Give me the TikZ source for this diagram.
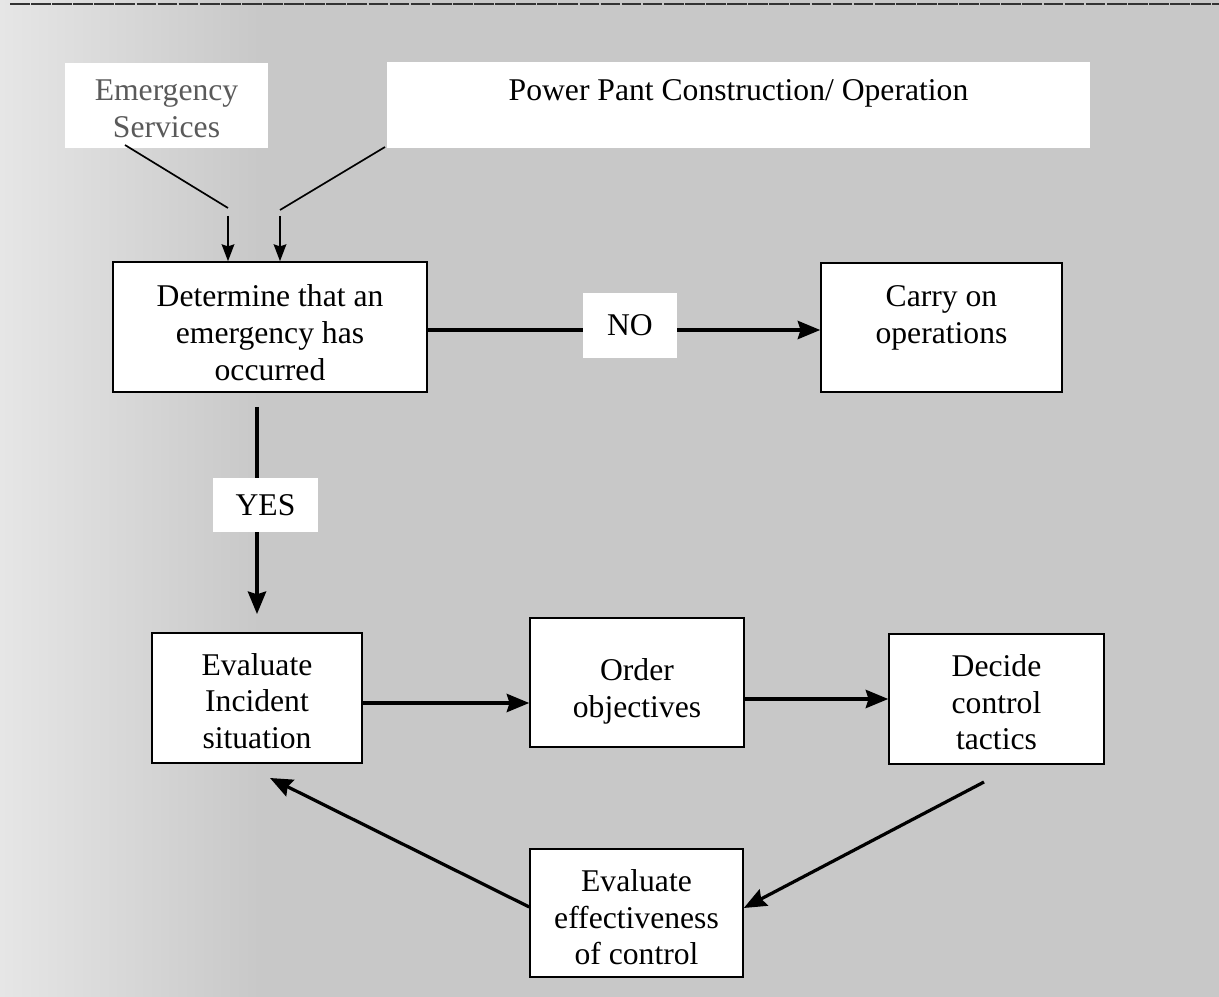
\documentclass[tikz,border=0pt]{standalone}
\usepackage{fontspec}
\setmainfont{Liberation Serif}
\usetikzlibrary{arrows.meta}
\definecolor{bg}{RGB}{200,200,200}
\definecolor{bgl}{RGB}{230,230,230}
\definecolor{fadetext}{RGB}{90,90,90}
\begin{document}
\begin{tikzpicture}[x=0.025cm,y=-0.025cm,
  txt/.style={font=\fontsize{22.5}{26}\selectfont, align=center, inner sep=0pt},
  box/.style={draw=black, line width=1.1pt, fill=white, inner sep=0pt},
  whitebox/.style={fill=white, inner sep=0pt},
  boxtext/.style 2 args={label={[txt, yshift=#1]center:{#2}}},
  arr/.style={line width=2.3pt, -{Stealth[length=16pt,width=13pt,inset=2pt]}},
  thinarr/.style={line width=1.3pt, -{Stealth[length=12pt,width=9pt,inset=1.5pt]}},
  thinline/.style={line width=1.2pt}
]
\useasboundingbox (0,0) rectangle (1219,997);
% background
\fill[bg] (0,0) rectangle (1219,997);
\shade[left color=bgl, right color=bg] (0,0) rectangle (260,997);
\draw[line width=1pt, dash pattern=on 14pt off 1pt, black!80] (10,4) -- (1219,4);

% top boxes (no border)
\node[whitebox, minimum width=5.075cm, minimum height=2.125cm,
  boxtext={-2.5pt}{\textcolor{fadetext}{Emergency}\\\textcolor{fadetext}{Services}}] (es) at (166.5,105.5) {};
\node[whitebox, minimum width=17.575cm, minimum height=2.15cm,
  boxtext={8.5pt}{Power Pant Construction/ Operation}] (pp) at (738.5,105) {};

% main boxes
\node[box, minimum width=7.85cm, minimum height=3.25cm,
  boxtext={-4pt}{Determine that an\\emergency has\\occurred}] (det) at (270,327) {};
\node[box, minimum width=6.025cm, minimum height=3.225cm,
  boxtext={7pt}{Carry on\\operations}] (carry) at (941.5,327.5) {};
\node[box, minimum width=5.25cm, minimum height=3.25cm,
  boxtext={-2pt}{Evaluate\\Incident\\situation}] (evi) at (257,698) {};
\node[box, minimum width=5.35cm, minimum height=3.225cm,
  boxtext={-6.5pt}{Order\\objectives}] (ord) at (637,682.5) {};
\node[box, minimum width=5.375cm, minimum height=3.25cm,
  boxtext={-2.5pt}{Decide\\control\\tactics}] (dec) at (996.5,699) {};
\node[box, minimum width=5.325cm, minimum height=3.2cm,
  boxtext={-3pt}{Evaluate\\effectiveness\\of control}] (eve) at (636.5,913) {};

% connectors from top boxes
\coordinate (es0) at (125,145);
\coordinate (es1) at (228,208);
\coordinate (es2) at (228,216);
\coordinate (pp0) at (385,147);
\coordinate (pp1) at (280,210);
\coordinate (pp2) at (280,216);
\draw[thinline] (es0) -- (es1);
\draw[thinarr] (es2) -- (es2 |- det.north);
\draw[thinline] (pp0) -- (pp1);
\draw[thinarr] (pp2) -- (pp2 |- det.north);

% NO branch
\draw[arr] (det.east |- 0,330) -- (carry.west |- 0,330);
\node[whitebox, txt, minimum width=2.35cm, minimum height=1.625cm] (no) at (630,325.5) {NO};

% YES branch
\coordinate (ys) at (257,407);
\coordinate (yt) at (257,614);
\draw[arr] (ys) -- (yt);
\node[whitebox, txt, minimum width=2.625cm, minimum height=1.35cm] (yes) at (265.5,505) {YES};

% cycle
\draw[arr] (evi.east |- 0,703) -- (ord.west |- 0,703);
\draw[arr] (ord.east |- dec.west) -- (dec.west);
\coordinate (ds) at (984,782);
\draw[arr] (ds) -- (eve.east |- 0,908);
\coordinate (et) at (270,778);
\draw[arr] (eve.west |- 0,907) -- (et);
\end{tikzpicture}
\end{document}
